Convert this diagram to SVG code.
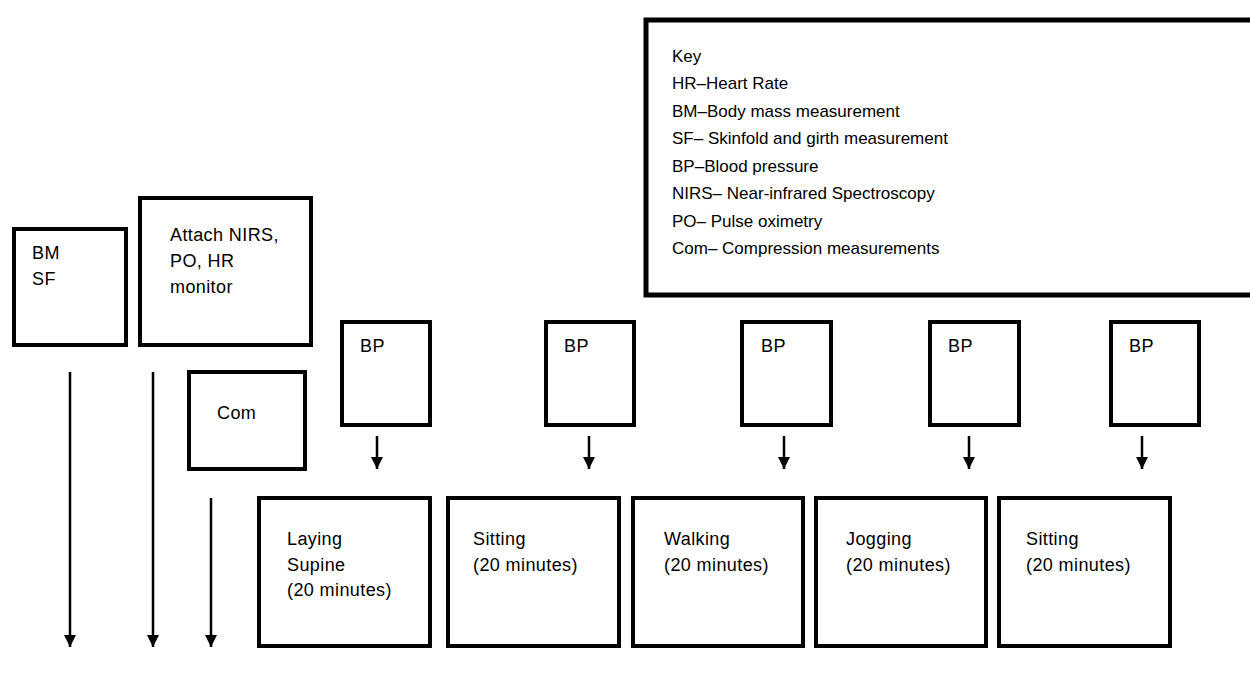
<svg xmlns="http://www.w3.org/2000/svg" width="1250" height="673" viewBox="0 0 1250 673">
<style>
.box{fill:#fff;stroke:#000;stroke-width:4}
.key{fill:#fff;stroke:#000;stroke-width:5}
.t{font-family:"Liberation Sans",Arial,sans-serif;font-size:18px;fill:#000;letter-spacing:0.4px}
.k{font-family:"Liberation Sans",Arial,sans-serif;font-size:17px;fill:#000}
.arr{stroke:#000;stroke-width:2.5;fill:none;marker-end:url(#ah)}
</style>
<defs>
<marker id="ah" markerUnits="userSpaceOnUse" markerWidth="12" markerHeight="12" viewBox="0 0 12 12" refX="12" refY="6" orient="auto">
<path d="M0,0 L12,6 L0,12 z" fill="#000"/>
</marker>
</defs>
<rect width="1250" height="673" fill="#fff"/>
<g id="key">
<rect class="key" x="646" y="20" width="620" height="275"/>
<text class="k" x="672" y="62">Key</text>
<text class="k" x="672" y="89">HR–Heart Rate</text>
<text class="k" x="672" y="117">BM–Body mass measurement</text>
<text class="k" x="672" y="144">SF– Skinfold and girth measurement</text>
<text class="k" x="672" y="172">BP–Blood pressure</text>
<text class="k" x="672" y="199">NIRS– Near-infrared Spectroscopy</text>
<text class="k" x="672" y="227">PO– Pulse oximetry</text>
<text class="k" x="672" y="254">Com– Compression measurements</text>
</g>
<g id="bmsf">
<rect class="box" x="14" y="229" width="112" height="116"/>
<text class="t" x="32" y="259">BM</text>
<text class="t" x="32" y="285">SF</text>
</g>
<g id="attach">
<rect class="box" x="140" y="198" width="171" height="147"/>
<text class="t" x="170" y="241">Attach NIRS,</text>
<text class="t" x="170" y="267">PO, HR</text>
<text class="t" x="170" y="293">monitor</text>
</g>
<g id="com">
<rect class="box" x="189" y="372" width="116" height="97"/>
<text class="t" x="217" y="419">Com</text>
</g>
<g id="bp1"><rect class="box" x="342" y="322" width="88" height="103"/><text class="t" x="360" y="352">BP</text></g>
<g id="bp2"><rect class="box" x="546" y="322" width="88" height="103"/><text class="t" x="564" y="352">BP</text></g>
<g id="bp3"><rect class="box" x="742" y="322" width="89" height="103"/><text class="t" x="761" y="352">BP</text></g>
<g id="bp4"><rect class="box" x="930" y="322" width="89" height="103"/><text class="t" x="948" y="352">BP</text></g>
<g id="bp5"><rect class="box" x="1111" y="322" width="88" height="103"/><text class="t" x="1129" y="352">BP</text></g>
<g id="laying">
<rect class="box" x="259" y="498" width="171" height="148"/>
<text class="t" x="287" y="545">Laying</text>
<text class="t" x="287" y="571">Supine</text>
<text class="t" x="287" y="596">(20 minutes)</text>
</g>
<g id="sitting1">
<rect class="box" x="448" y="498" width="171" height="148"/>
<text class="t" x="473" y="545">Sitting</text>
<text class="t" x="473" y="571">(20 minutes)</text>
</g>
<g id="walking">
<rect class="box" x="633" y="498" width="170" height="148"/>
<text class="t" x="664" y="545">Walking</text>
<text class="t" x="664" y="571">(20 minutes)</text>
</g>
<g id="jogging">
<rect class="box" x="816" y="498" width="170" height="148"/>
<text class="t" x="846" y="545">Jogging</text>
<text class="t" x="846" y="571">(20 minutes)</text>
</g>
<g id="sitting2">
<rect class="box" x="999" y="498" width="171" height="148"/>
<text class="t" x="1026" y="545">Sitting</text>
<text class="t" x="1026" y="571">(20 minutes)</text>
</g>
<g id="connectors">
<line class="arr" x1="70" y1="372" x2="70" y2="647"/>
<line class="arr" x1="153" y1="372" x2="153" y2="647"/>
<line class="arr" x1="211" y1="498" x2="211" y2="647"/>
<line class="arr" x1="377" y1="436" x2="377" y2="469"/>
<line class="arr" x1="589" y1="436" x2="589" y2="469"/>
<line class="arr" x1="784" y1="436" x2="784" y2="469"/>
<line class="arr" x1="969" y1="436" x2="969" y2="469"/>
<line class="arr" x1="1142" y1="436" x2="1142" y2="469"/>
</g>
</svg>
